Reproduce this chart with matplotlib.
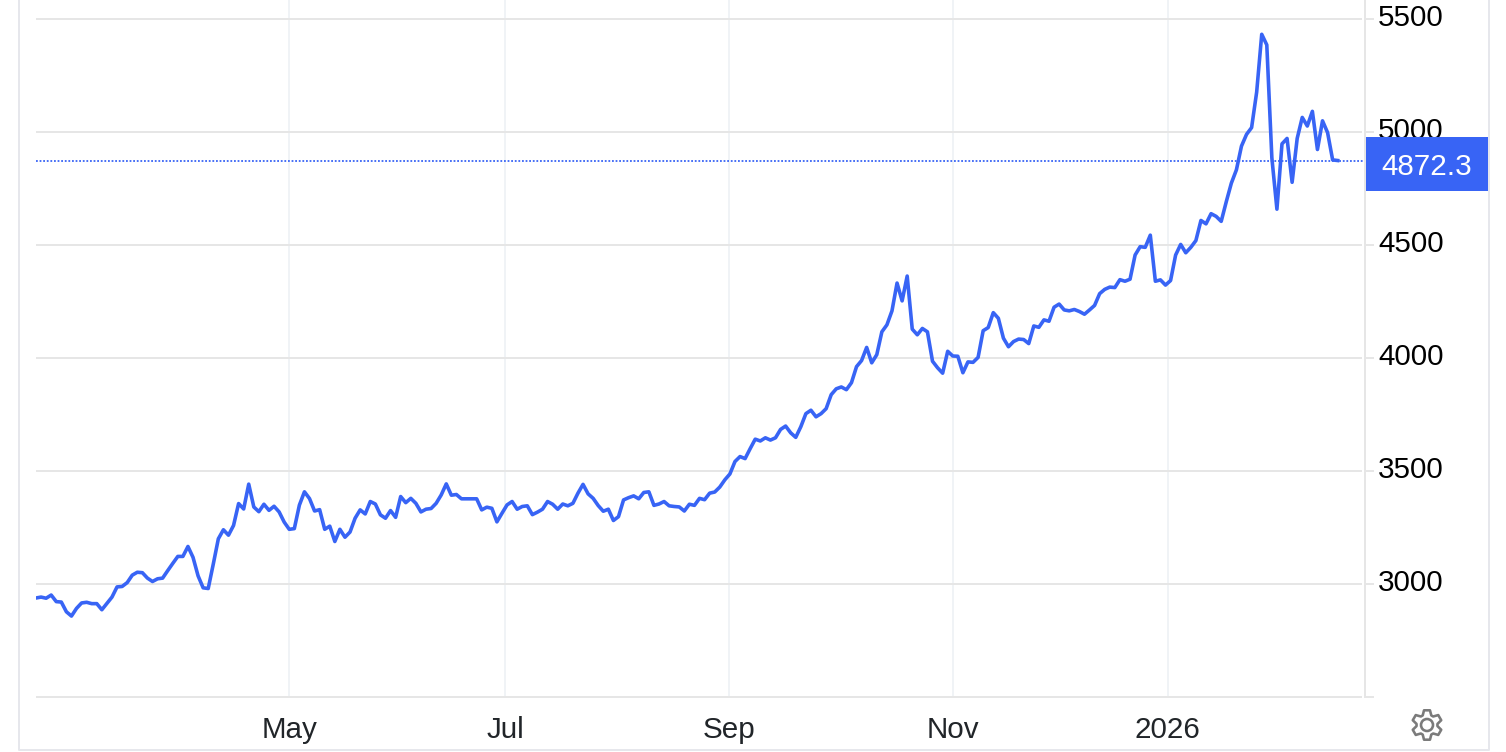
import numpy as np
from matplotlib import pyplot as plt
from matplotlib.patches import PathPatch, Rectangle, Circle
from matplotlib.path import Path
from matplotlib.transforms import ScaledTranslation

# ------------------------------- Dados ------------------------------- #
precos = [
    2936, 2940, 2935, 2949, 2920, 2918, 2875, 2856, 2890, 2914,
    2917, 2911, 2911, 2884, 2912, 2940, 2985, 2987, 3004, 3037,
    3050, 3048, 3024, 3009, 3021, 3024, 3057, 3089, 3120, 3120,
    3164, 3116, 3034, 2981, 2978, 3086, 3198, 3238, 3214, 3257,
    3354, 3330, 3440, 3339, 3318, 3351, 3324, 3342, 3317, 3272,
    3240, 3243, 3347, 3406, 3376, 3321, 3327, 3240, 3254, 3186,
    3240, 3205, 3228, 3289, 3326, 3308, 3363, 3352, 3304, 3289,
    3323, 3293, 3385, 3358, 3377, 3355, 3317, 3329, 3332, 3355,
    3392, 3441, 3391, 3394, 3375, 3375, 3375, 3375, 3326, 3338,
    3333, 3273, 3311, 3348, 3363, 3329, 3341, 3344, 3305, 3316,
    3329, 3363, 3351, 3329, 3352, 3344, 3355, 3400, 3439, 3397,
    3377, 3345, 3320, 3329, 3279, 3296, 3370, 3380, 3388, 3375,
    3403, 3406, 3346, 3352, 3363, 3344, 3341, 3339, 3321, 3351,
    3346, 3377, 3371, 3400, 3405, 3427, 3459, 3485, 3540, 3562,
    3553, 3597, 3639, 3631, 3645, 3635, 3645, 3682, 3697, 3667,
    3647, 3694, 3752, 3767, 3738, 3752, 3774, 3836, 3862, 3870,
    3858, 3889, 3960, 3987, 4045, 3977, 4013, 4114, 4145, 4207,
    4330, 4251, 4361, 4126, 4101, 4129, 4114, 3984, 3955, 3931,
    4028, 4007, 4006, 3933, 3981, 3979, 4001, 4119, 4133, 4199,
    4174, 4086, 4048, 4071, 4082, 4080, 4062, 4140, 4134, 4167,
    4161, 4223, 4237, 4211, 4207, 4213, 4204, 4192, 4211, 4231,
    4283, 4302, 4312, 4310, 4345, 4338, 4347, 4454, 4491, 4488,
    4542, 4338, 4344, 4321, 4341, 4454, 4501, 4464, 4488, 4518,
    4607, 4592, 4637, 4625, 4603, 4690, 4772, 4831, 4936, 4988,
    5018, 5175, 5431, 5384, 4884, 4657, 4946, 4970, 4776, 4970,
    5063, 5025, 5090, 4921, 5048, 4996, 4875, 4872.3,
]
ultimo_valor = precos[-1]

y_ticks = [2500, 3000, 3500, 4000, 4500, 5000, 5500]
y_labels = ["", "3000", "3500", "4000", "4500", "5000", "5500"]
x_ticks = [50.0, 92.6, 136.8, 181.1, 223.4]
x_labels = ["May", "Jul", "Sep", "Nov", "2026"]

# ------------------------------- Estilo ------------------------------- #
AZUL = "#3864f5"
GRADE_H = "#e6e6e6"
GRADE_V = "#f0f3f6"
BORDA = "#e6e7ec"
FONTE = "Liberation Sans"
L, A = 1506, 752
px = 72 / 100  # pontos por pixel

fig = plt.figure(figsize=(L / 100, A / 100), dpi=100)

# Camada de fundo em pixels: moldura e icone
fundo = fig.add_axes([0, 0, 1, 1])
fundo.set_xlim(0, L)
fundo.set_ylim(A, 0)
fundo.axis("off")
fundo.plot([19, 19, 1489, 1489], [0, 750, 750, 0], color=BORDA, lw=2 * px)

# Engrenagem feita com seis dentes
cx, cy = 1427, 725
n_dentes = 6
vertices = []
for k in range(n_dentes):
    a0 = 2 * np.pi * k / n_dentes - np.pi / 2
    for da, r in [(-0.42, 10.5), (-0.2, 15), (0.2, 15), (0.42, 10.5)]:
        vertices.append((cx + r * np.cos(a0 + da), cy + r * np.sin(a0 + da)))
vertices.append(vertices[0])
codigos = [Path.MOVETO] + [Path.LINETO] * (len(vertices) - 2) + [Path.CLOSEPOLY]
fundo.add_patch(PathPatch(Path(vertices, codigos), fill=False, ec="#7b7b7b", lw=2.6 * px, joinstyle="round"))
fundo.add_patch(Circle((cx, cy), 6, fill=False, ec="#7b7b7b", lw=2.6 * px))

# Eixo principal
ax = fig.add_axes([36 / L, (A - 696.5) / A, (1365 - 36) / L, 696.5 / A])
ax.patch.set_alpha(0)
passo = 5.065
ax.set_xlim(0, (1365 - 36) / passo)
ax.set_ylim(2500, 5500 + 18.7 / 0.2259)

for lado in ["top", "left", "bottom"]:
    ax.spines[lado].set_visible(False)
ax.spines["right"].set_color(GRADE_H)
ax.spines["right"].set_linewidth(2 * px)

ax.vlines(x_ticks, 0, 1, transform=ax.get_xaxis_transform(), color=GRADE_V, lw=2 * px, zorder=1)
ax.hlines(y_ticks, 0, 0.9975, transform=ax.get_yaxis_transform(), color=GRADE_H, lw=2 * px, zorder=1, clip_on=False)

ax.yaxis.tick_right()
ax.set_yticks(y_ticks)
ax.set_yticklabels(y_labels, fontname=FONTE, fontsize=21.3, color="black")
ax.tick_params(axis="y", length=9 * px, width=2 * px, color=GRADE_H, pad=4 * px)
desloca = ScaledTranslation(0, 3.5 / 100, fig.dpi_scale_trans)
for rotulo in ax.get_yticklabels():
    rotulo.set_transform(rotulo.get_transform() + desloca)

ax.set_xticks(x_ticks)
ax.set_xticklabels(x_labels, fontname=FONTE, fontsize=21.3, color="#212529")
ax.tick_params(axis="x", length=0, pad=19 * px)

# Serie
ax.plot(range(len(precos)), precos, color=AZUL, lw=3.6 * px, solid_joinstyle="round", zorder=3)
ax.axhline(ultimo_valor, color=AZUL, lw=1.8 * px, ls=(0, (1, 1)), zorder=2)

# Caixa do ultimo valor
mistura = ax.get_yaxis_transform()
ax.add_patch(Rectangle((1.0007, 4739), 122 / (1365 - 36), 239, transform=mistura, color=AZUL, clip_on=False, zorder=10, lw=0))
ax.text(1 + 61.5 / (1365 - 36), 4843, f"{ultimo_valor:.1f}", transform=mistura, color="white", fontname=FONTE,
        fontsize=21.3, ha="center", va="center", zorder=11, clip_on=False)

fig.savefig("out.png", dpi=100)
